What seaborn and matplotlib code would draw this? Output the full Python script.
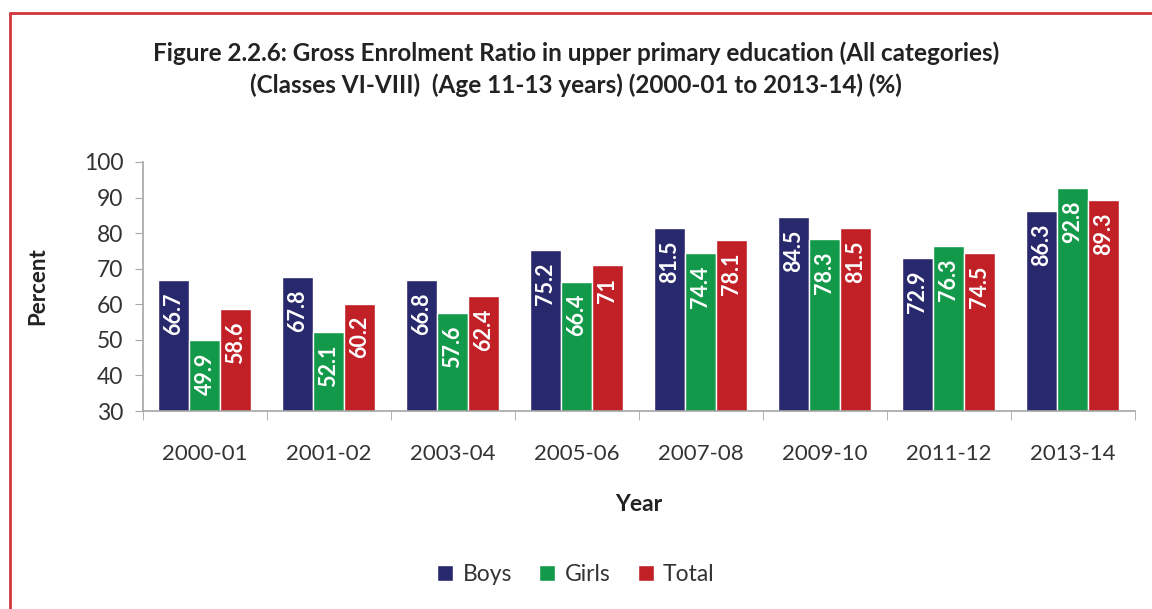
import matplotlib.pyplot as plt
import seaborn as sns
import pandas as pd
from matplotlib.lines import Line2D
from matplotlib.patches import Patch

years = ['2000-01', '2001-02', '2003-04', '2005-06', '2007-08', '2009-10', '2011-12', '2013-14']
boys = [66.7, 67.8, 66.8, 75.2, 81.5, 84.5, 72.9, 86.3]
girls = [49.9, 52.1, 57.6, 66.4, 74.4, 78.3, 76.3, 92.8]
total = [58.6, 60.2, 62.4, 71, 78.1, 81.5, 74.5, 89.3]
series = ['Boys', 'Girls', 'Total']
colors = ['#28286C', '#12994A', '#C02026']

df = pd.DataFrame({
    'Year': years * 3,
    'Value': boys + girls + total,
    'Series': [s for s in series for _ in years],
})

sns.set_style('white')
plt.rcParams['font.family'] = ['Lato', 'DejaVu Sans']

fig = plt.figure(figsize=(11.52, 6.09), dpi=100)
ax = fig.add_axes([0.1241, 0.3251, 0.8611, 0.4089])

sns.barplot(data=df, x='Year', y='Value', hue='Series', palette=colors,
            width=0.75, saturation=1, ax=ax, legend=False)

ax.set_ylim(30, 100)
ax.set_xlim(-0.5, len(years) - 0.5)
ax.set_yticks(range(30, 101, 10))
ax.tick_params(axis='y', labelsize=16.5, length=6, color='#A6A6A6', direction='out',
               left=True, pad=8, labelcolor='#333333')
ax.tick_params(axis='x', which='major', length=0, labelsize=16, pad=24, labelcolor='#333333')
ax.set_xticks([i + 0.5 for i in range(-1, len(years))], minor=True)
ax.tick_params(axis='x', which='minor', length=6.5, color='#A6A6A6', direction='out', bottom=True)

for side in ['top', 'right']:
    ax.spines[side].set_visible(False)
for side in ['left', 'bottom']:
    ax.spines[side].set_color('#A6A6A6')
    ax.spines[side].set_linewidth(1.2)

# etiquetas dentro de las barras
for cont in ax.containers:
    for bar in cont:
        h = bar.get_height()
        ax.annotate(f'{h:g}', (bar.get_x() + bar.get_width() / 2, h),
                    xytext=(0, -9), textcoords='offset points',
                    ha='center', va='top', rotation=90, color='white',
                    fontsize=15.5, fontweight='bold')

ax.set_ylabel('Percent', fontsize=16, fontweight='bold', color='#222222', labelpad=26)
ax.set_xlabel('Year', fontsize=16.5, fontweight='bold', color='#222222', labelpad=21)

fig.text(0.5, 0.913, 'Figure 2.2.6: Gross Enrolment Ratio in upper primary education (All categories)',
         ha='center', va='center', fontsize=17.5, fontweight='bold', color='#222222')
fig.text(0.5, 0.860, '(Classes VI-VIII)  (Age 11-13 years) (2000-01 to 2013-14) (%)',
         ha='center', va='center', fontsize=17.5, fontweight='bold', color='#222222')

handles = [Patch(facecolor=c, label=s) for s, c in zip(series, colors)]
fig.legend(handles=handles, loc='center', bbox_to_anchor=(0.5, 0.056), ncol=3,
           frameon=False, fontsize=16.5, handlelength=0.7, handleheight=0.7,
           handletextpad=0.4, columnspacing=1.2, labelcolor='#333333')

# marco rojo
fig.add_artist(Line2D([0.0085, 1.0], [0.979, 0.979], color='#D0363C', lw=2, transform=fig.transFigure))
fig.add_artist(Line2D([0.0085, 0.0085], [0.0, 0.979], color='#D0363C', lw=2, transform=fig.transFigure))

fig.savefig('out.png', dpi=100)
